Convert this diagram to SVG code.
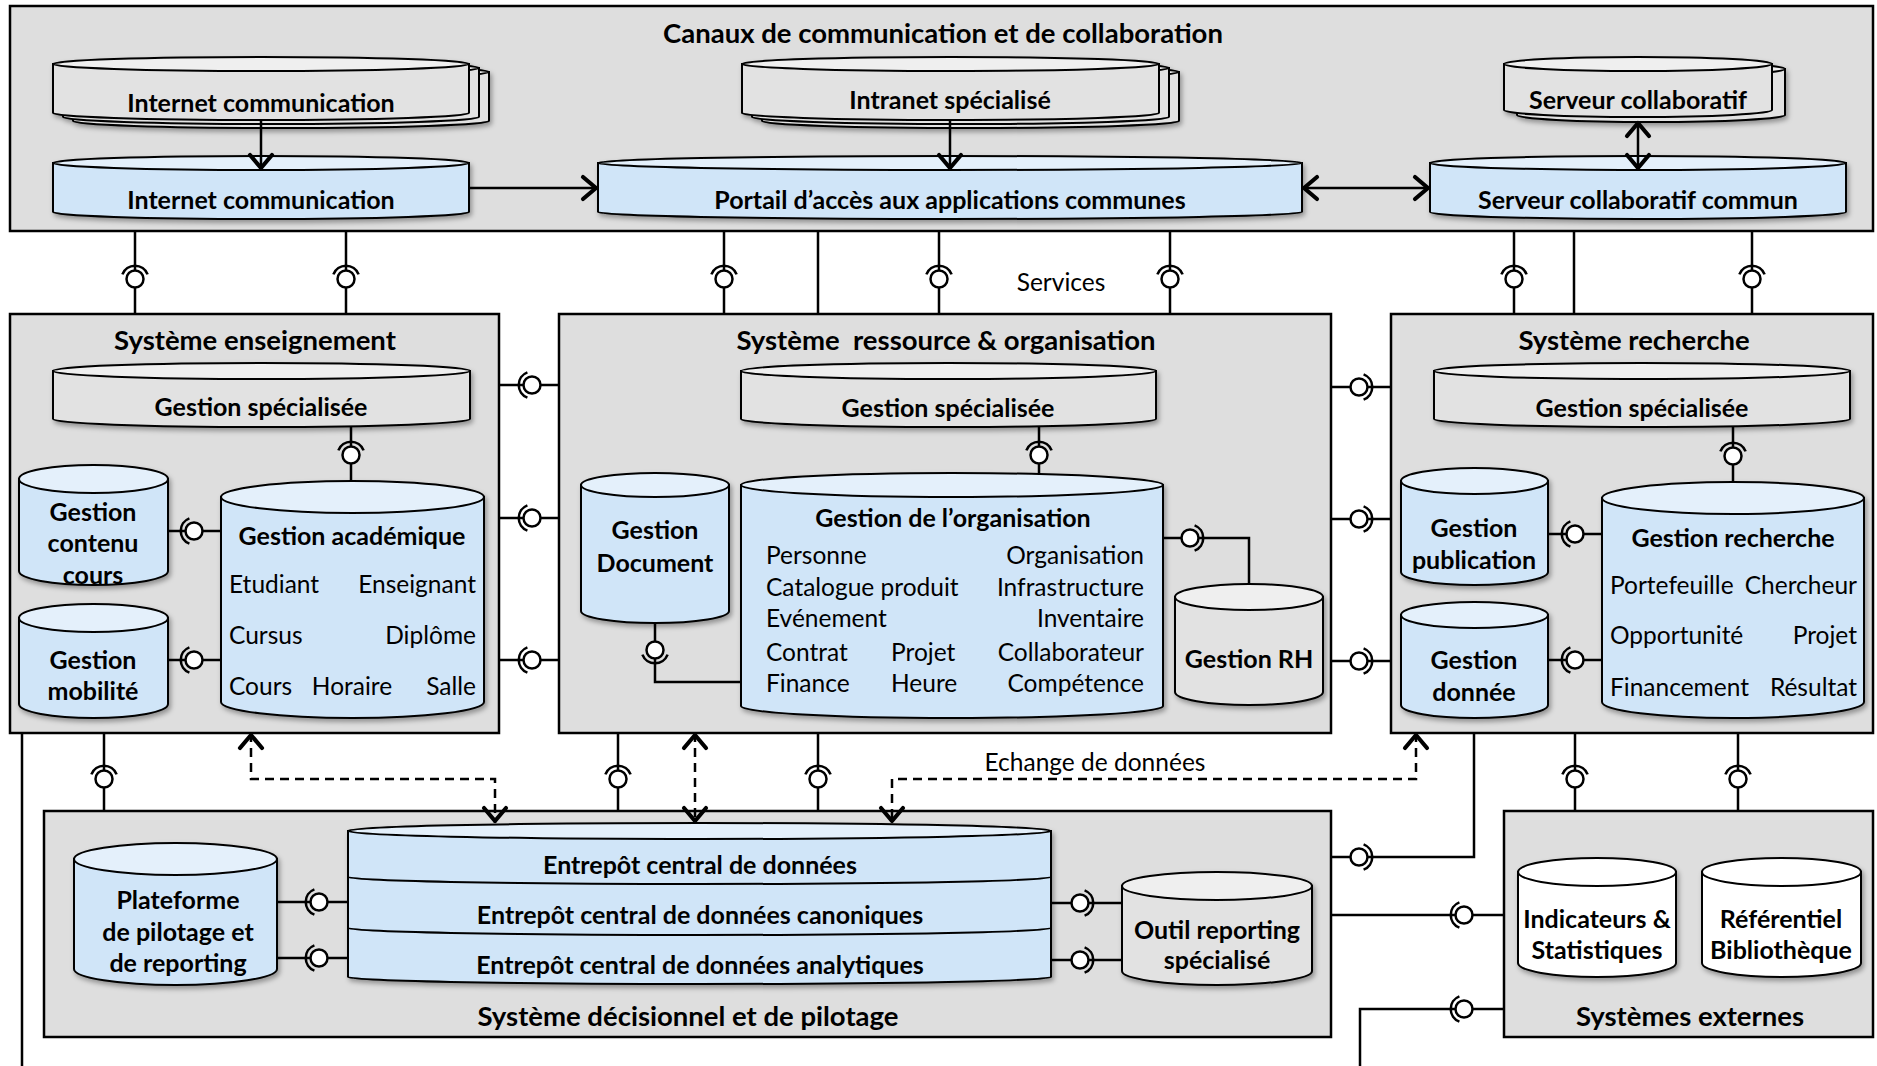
<svg xmlns="http://www.w3.org/2000/svg" xmlns:xlink="http://www.w3.org/1999/xlink" width="1877" height="1066" viewBox="0 0 1877 1066">
<style>
.box{fill:#dedede;stroke:#000;stroke-width:2.5}
.b,.t{stroke:#000;stroke-width:2}
.blue .b{fill:#d0e5f8}.blue .t{fill:#e4f0fb}
.gray .b{fill:#e2e2e2}.gray .t{fill:#efefef}
.white .b,.white .t{fill:#fff}
.ln{fill:none;stroke:#000;stroke-width:2.5}
.dash{fill:none;stroke:#000;stroke-width:2.5;stroke-dasharray:9 6}
.arr{fill:none;stroke:#000;stroke-width:2.5}
text{font-family:Lato,"Liberation Sans",sans-serif;fill:#000}
.hd{font-weight:700;font-size:27.5px;text-anchor:middle}
.lb{font-weight:700;font-size:25px;text-anchor:middle}
.it{font-size:24.5px}
.r{text-anchor:end}
.m{text-anchor:middle}
.nt{font-size:24.5px;text-anchor:middle}
</style>
<defs>
<filter id="sh" x="-10%" y="-10%" width="125%" height="135%"><feDropShadow dx="2" dy="3" stdDeviation="2.5" flood-color="#000" flood-opacity="0.35"/></filter>
<marker id="ah" viewBox="-20 -15 24 30" refX="0" refY="0" markerWidth="24" markerHeight="30" markerUnits="userSpaceOnUse" orient="auto-start-reverse"><path d="M-15,-11 L-2,0 L-15,11" fill="none" stroke="#000" stroke-width="4.2" stroke-linecap="round" stroke-linejoin="round"/></marker>
<g id="bs"><path d="M-12.6,-4.6 A13.5,13.5 0 0 1 12.6,-4.6" fill="none" stroke="#000" stroke-width="2.6"/><circle r="8.5" fill="#fff" stroke="#000" stroke-width="2.5"/></g>
</defs>

<!-- Containers -->
<g id="canaux">
<rect class="box" x="10" y="6" width="1863" height="225"/>
<text class="hd" x="943" y="43">Canaux de communication et de collaboration</text>
</g>
<g id="sys-enseignement">
<rect class="box" x="10" y="314" width="489" height="419"/>
<text class="hd" x="255" y="350">Système enseignement</text>
</g>
<g id="sys-ressource">
<rect class="box" x="559" y="314" width="772" height="419"/>
<text class="hd" x="946" y="350" style="white-space:pre">Système  ressource &amp; organisation</text>
</g>
<g id="sys-recherche">
<rect class="box" x="1391" y="314" width="482" height="419"/>
<text class="hd" x="1634" y="350">Système recherche</text>
</g>
<g id="sys-decisionnel">
<rect class="box" x="44" y="811" width="1287" height="226"/>
<text class="hd" x="688" y="1026">Système décisionnel et de pilotage</text>
</g>
<g id="sys-externes">
<rect class="box" x="1504" y="811" width="369" height="226"/>
<text class="hd" x="1690" y="1026">Systèmes externes</text>
</g>

<!-- Top channel nodes -->
<g id="internet-stack" class="gray">
<g filter="url(#sh)">
<path class="b" d="M73,72 V121 A208,7 0 0 0 489,121 V72 Z"/><ellipse class="t" cx="281" cy="72" rx="208" ry="7"/>
<path class="b" d="M63,68 V117 A208,7 0 0 0 479,117 V68 Z"/><ellipse class="t" cx="271" cy="68" rx="208" ry="7"/>
<path class="b" d="M53,64 V113 A208,7 0 0 0 469,113 V64 Z"/><ellipse class="t" cx="261" cy="64" rx="208" ry="7"/>
</g>
<text class="lb" x="261" y="112">Internet communication</text>
</g>
<g id="intranet-stack" class="gray">
<g filter="url(#sh)">
<path class="b" d="M762,72 V121 A208.5,7 0 0 0 1179,121 V72 Z"/><ellipse class="t" cx="970.5" cy="72" rx="208.5" ry="7"/>
<path class="b" d="M752,68 V117 A208.5,7 0 0 0 1169,117 V68 Z"/><ellipse class="t" cx="960.5" cy="68" rx="208.5" ry="7"/>
<path class="b" d="M742,64 V113 A208.5,7 0 0 0 1159,113 V64 Z"/><ellipse class="t" cx="950.5" cy="64" rx="208.5" ry="7"/>
</g>
<text class="lb" x="950" y="109">Intranet spécialisé</text>
</g>
<g id="serveur-stack" class="gray">
<g filter="url(#sh)">
<path class="b" d="M1517,69 V115 A134,7 0 0 0 1785,115 V69 Z"/><ellipse class="t" cx="1651" cy="69" rx="134" ry="7"/>
<path class="b" d="M1504,64 V110 A134,7 0 0 0 1772,110 V64 Z"/><ellipse class="t" cx="1638" cy="64" rx="134" ry="7"/>
</g>
<text class="lb" x="1638" y="109">Serveur collaboratif</text>
</g>
<g id="internet-com" class="blue">
<g filter="url(#sh)"><path class="b" d="M53,163 V212 A208,7 0 0 0 469,212 V163 Z"/><ellipse class="t" cx="261" cy="163" rx="208" ry="7"/></g>
<text class="lb" x="261" y="209">Internet communication</text>
</g>
<g id="portail" class="blue">
<g filter="url(#sh)"><path class="b" d="M598,163 V212 A352,7 0 0 0 1302,212 V163 Z"/><ellipse class="t" cx="950" cy="163" rx="352" ry="7"/></g>
<text class="lb" x="950" y="209">Portail d’accès aux applications communes</text>
</g>
<g id="serveur-commun" class="blue">
<g filter="url(#sh)"><path class="b" d="M1430,163 V212 A208,7 0 0 0 1846,212 V163 Z"/><ellipse class="t" cx="1638" cy="163" rx="208" ry="7"/></g>
<text class="lb" x="1638" y="209">Serveur collaboratif commun</text>
</g>

<!-- Enseignement nodes -->
<g id="ens-spec" class="gray">
<g filter="url(#sh)"><path class="b" d="M53,371 V419 A208.5,8 0 0 0 470,419 V371 Z"/><ellipse class="t" cx="261.5" cy="371" rx="208.5" ry="8"/></g>
<text class="lb" x="261" y="416">Gestion spécialisée</text>
</g>
<g id="ens-contenu" class="blue">
<g filter="url(#sh)"><path class="b" d="M19,479 V571 A74.5,14 0 0 0 168,571 V479 Z"/><ellipse class="t" cx="93.5" cy="479" rx="74.5" ry="14"/></g>
<text class="lb" x="93" y="521">Gestion</text><text class="lb" x="93" y="552">contenu</text><text class="lb" x="93" y="584">cours</text>
</g>
<g id="ens-mobilite" class="blue">
<g filter="url(#sh)"><path class="b" d="M19,618 V704 A74.5,14 0 0 0 168,704 V618 Z"/><ellipse class="t" cx="93.5" cy="618" rx="74.5" ry="14"/></g>
<text class="lb" x="93" y="669">Gestion</text><text class="lb" x="93" y="700">mobilité</text>
</g>
<g id="ens-academique" class="blue">
<g filter="url(#sh)"><path class="b" d="M221,497 V702 A131.5,16 0 0 0 484,702 V497 Z"/><ellipse class="t" cx="352.5" cy="497" rx="131.5" ry="16"/></g>
<text class="lb" x="352" y="545">Gestion académique</text>
<text class="it" x="229" y="593">Etudiant</text><text class="it r" x="476" y="593">Enseignant</text>
<text class="it" x="229" y="644">Cursus</text><text class="it r" x="476" y="644">Diplôme</text>
<text class="it" x="229" y="695">Cours</text><text class="it m" x="352" y="695">Horaire</text><text class="it r" x="476" y="695">Salle</text>
</g>

<!-- Ressource nodes -->
<g id="res-spec" class="gray">
<g filter="url(#sh)"><path class="b" d="M741,371 V419 A207.5,8 0 0 0 1156,419 V371 Z"/><ellipse class="t" cx="948.5" cy="371" rx="207.5" ry="8"/></g>
<text class="lb" x="948" y="417">Gestion spécialisée</text>
</g>
<g id="res-document" class="blue">
<g filter="url(#sh)"><path class="b" d="M581,485 V611 A74,12 0 0 0 729,611 V485 Z"/><ellipse class="t" cx="655" cy="485" rx="74" ry="12"/></g>
<text class="lb" x="655" y="539">Gestion</text><text class="lb" x="655" y="572">Document</text>
</g>
<g id="res-organisation" class="blue">
<g filter="url(#sh)"><path class="b" d="M741,485 V706 A211,12 0 0 0 1163,706 V485 Z"/><ellipse class="t" cx="952" cy="485" rx="211" ry="12"/></g>
<text class="lb" x="953" y="527">Gestion de l’organisation</text>
<text class="it" x="766" y="564">Personne</text><text class="it r" x="1144" y="564">Organisation</text>
<text class="it" x="766" y="596">Catalogue produit</text><text class="it r" x="1144" y="596">Infrastructure</text>
<text class="it" x="766" y="627">Evénement</text><text class="it r" x="1144" y="627">Inventaire</text>
<text class="it" x="766" y="661">Contrat</text><text class="it" x="891" y="661">Projet</text><text class="it r" x="1144" y="661">Collaborateur</text>
<text class="it" x="766" y="692">Finance</text><text class="it" x="891" y="692">Heure</text><text class="it r" x="1144" y="692">Compétence</text>
</g>
<g id="res-rh" class="gray">
<g filter="url(#sh)"><path class="b" d="M1175,597 V692 A74,13 0 0 0 1323,692 V597 Z"/><ellipse class="t" cx="1249" cy="597" rx="74" ry="13"/></g>
<text class="lb" x="1249" y="668">Gestion RH</text>
</g>

<!-- Recherche nodes -->
<g id="rech-spec" class="gray">
<g filter="url(#sh)"><path class="b" d="M1434,371 V419 A208,8 0 0 0 1850,419 V371 Z"/><ellipse class="t" cx="1642" cy="371" rx="208" ry="8"/></g>
<text class="lb" x="1642" y="417">Gestion spécialisée</text>
</g>
<g id="rech-publication" class="blue">
<g filter="url(#sh)"><path class="b" d="M1401,481 V572 A73.5,13 0 0 0 1548,572 V481 Z"/><ellipse class="t" cx="1474.5" cy="481" rx="73.5" ry="13"/></g>
<text class="lb" x="1474" y="537">Gestion</text><text class="lb" x="1474" y="569">publication</text>
</g>
<g id="rech-donnee" class="blue">
<g filter="url(#sh)"><path class="b" d="M1401,615 V705 A73.5,13 0 0 0 1548,705 V615 Z"/><ellipse class="t" cx="1474.5" cy="615" rx="73.5" ry="13"/></g>
<text class="lb" x="1474" y="669">Gestion</text><text class="lb" x="1474" y="701">donnée</text>
</g>
<g id="rech-recherche" class="blue">
<g filter="url(#sh)"><path class="b" d="M1602,498 V702 A131,16 0 0 0 1864,702 V498 Z"/><ellipse class="t" cx="1733" cy="498" rx="131" ry="16"/></g>
<text class="lb" x="1733" y="547">Gestion recherche</text>
<text class="it" x="1610" y="594">Portefeuille</text><text class="it r" x="1857" y="594">Chercheur</text>
<text class="it" x="1610" y="644">Opportunité</text><text class="it r" x="1857" y="644">Projet</text>
<text class="it" x="1610" y="696">Financement</text><text class="it r" x="1857" y="696">Résultat</text>
</g>

<!-- Décisionnel nodes -->
<g id="dec-plateforme" class="blue">
<g filter="url(#sh)"><path class="b" d="M74,859 V969 A101.5,16 0 0 0 277,969 V859 Z"/><ellipse class="t" cx="175.5" cy="859" rx="101.5" ry="16"/></g>
<text class="lb" x="178" y="909">Plateforme</text><text class="lb" x="178" y="941">de pilotage et</text><text class="lb" x="178" y="972">de reporting</text>
</g>
<g id="dec-entrepot" class="blue">
<g filter="url(#sh)">
<path class="b" d="M348,921 V977 A351.5,7 0 0 0 1051,977 V921 Z"/>
<path class="b" d="M348,870 V928 A351.5,7 0 0 0 1051,928 V870 Z"/>
<path class="b" d="M348,831 V877 A351.5,7 0 0 0 1051,877 V831 Z"/>
<ellipse class="t" cx="699.5" cy="831" rx="351.5" ry="8"/>
</g>
<text class="lb" x="700" y="874">Entrepôt central de données</text>
<text class="lb" x="700" y="924">Entrepôt central de données canoniques</text>
<text class="lb" x="700" y="974">Entrepôt central de données analytiques</text>
</g>
<g id="dec-outil" class="gray">
<g filter="url(#sh)"><path class="b" d="M1122,886 V971 A95,14 0 0 0 1312,971 V886 Z"/><ellipse class="t" cx="1217" cy="886" rx="95" ry="14"/></g>
<text class="lb" x="1217" y="939">Outil reporting</text><text class="lb" x="1217" y="969">spécialisé</text>
</g>

<!-- Externes nodes -->
<g id="ext-indicateurs" class="white">
<g filter="url(#sh)"><path class="b" d="M1518,872 V963 A79,14 0 0 0 1676,963 V872 Z"/><ellipse class="t" cx="1597" cy="872" rx="79" ry="14"/></g>
<text class="lb" x="1597" y="928">Indicateurs &amp;</text><text class="lb" x="1597" y="959">Statistiques</text>
</g>
<g id="ext-referentiel" class="white">
<g filter="url(#sh)"><path class="b" d="M1702,872 V963 A79.5,14 0 0 0 1861,963 V872 Z"/><ellipse class="t" cx="1781.5" cy="872" rx="79.5" ry="14"/></g>
<text class="lb" x="1781" y="928">Référentiel</text><text class="lb" x="1781" y="959">Bibliothèque</text>
</g>

<!-- Connectors -->
<g id="connectors">
<path class="arr" d="M261,121 V170" marker-end="url(#ah)"/>
<path class="arr" d="M950,121 V170" marker-end="url(#ah)"/>
<path class="arr" d="M469,188 H598" marker-end="url(#ah)"/>
<path class="arr" d="M1302,188 H1430" marker-start="url(#ah)" marker-end="url(#ah)"/>
<path class="arr" d="M1638,121 V170" marker-start="url(#ah)" marker-end="url(#ah)"/>

<path class="ln" d="M135,231 V314 M346,231 V314 M724,231 V314 M818,231 V314 M939,231 V314 M1170,231 V314 M1514,231 V314 M1574,231 V314 M1752,231 V314"/>
<use xlink:href="#bs" transform="translate(135,279)"/>
<use xlink:href="#bs" transform="translate(346,279)"/>
<use xlink:href="#bs" transform="translate(724,279)"/>
<use xlink:href="#bs" transform="translate(939,279)"/>
<use xlink:href="#bs" transform="translate(1170,279)"/>
<use xlink:href="#bs" transform="translate(1514,279)"/>
<use xlink:href="#bs" transform="translate(1752,279)"/>
<text class="nt" x="1061" y="291">Services</text>

<path class="ln" d="M351,427 V481 M1039,427 V473 M1733,427 V482"/>
<use xlink:href="#bs" transform="translate(351,455)"/>
<use xlink:href="#bs" transform="translate(1039,455)"/>
<use xlink:href="#bs" transform="translate(1733,456)"/>
<path class="ln" d="M168,531 H221 M168,660 H221"/>
<use xlink:href="#bs" transform="translate(194,531) rotate(-90)"/>
<use xlink:href="#bs" transform="translate(194,660) rotate(-90)"/>
<path class="ln" d="M1548,534 H1602 M1548,660 H1602"/>
<use xlink:href="#bs" transform="translate(1575,534) rotate(-90)"/>
<use xlink:href="#bs" transform="translate(1575,660) rotate(-90)"/>
<path class="ln" d="M655,623 V682 H741"/>
<use xlink:href="#bs" transform="translate(655,650) rotate(180)"/>
<path class="ln" d="M1163,538 H1249 V584"/>
<use xlink:href="#bs" transform="translate(1190,538) rotate(90)"/>

<path class="ln" d="M499,385 H559 M499,518 H559 M499,660 H559"/>
<use xlink:href="#bs" transform="translate(532,385) rotate(-90)"/>
<use xlink:href="#bs" transform="translate(532,518) rotate(-90)"/>
<use xlink:href="#bs" transform="translate(532,660) rotate(-90)"/>
<path class="ln" d="M1331,387 H1391 M1331,519 H1391 M1331,661 H1391"/>
<use xlink:href="#bs" transform="translate(1359,387) rotate(90)"/>
<use xlink:href="#bs" transform="translate(1359,519) rotate(90)"/>
<use xlink:href="#bs" transform="translate(1359,661) rotate(90)"/>

<path class="ln" d="M104,733 V811 M618,733 V811 M818,733 V811 M1575,733 V811 M1738,733 V811"/>
<use xlink:href="#bs" transform="translate(104,779)"/>
<use xlink:href="#bs" transform="translate(618,779)"/>
<use xlink:href="#bs" transform="translate(818,779)"/>
<use xlink:href="#bs" transform="translate(1575,779)"/>
<use xlink:href="#bs" transform="translate(1738,779)"/>
<path class="ln" d="M22,733 V1066"/>
<path class="ln" d="M1474,733 V857 H1331"/>
<use xlink:href="#bs" transform="translate(1359,857) rotate(90)"/>

<path class="dash" d="M251,733 V779 H495 V823" marker-start="url(#ah)" marker-end="url(#ah)"/>
<path class="dash" d="M695,733 V823" marker-start="url(#ah)" marker-end="url(#ah)"/>
<path class="dash" d="M1416,733 V779 H892 V823" marker-start="url(#ah)" marker-end="url(#ah)"/>
<text class="nt" x="1095" y="771">Echange de données</text>

<path class="ln" d="M277,902 H348 M277,958 H348"/>
<use xlink:href="#bs" transform="translate(319,902) rotate(-90)"/>
<use xlink:href="#bs" transform="translate(319,958) rotate(-90)"/>
<path class="ln" d="M1051,903 H1122 M1051,960 H1122"/>
<use xlink:href="#bs" transform="translate(1080,903) rotate(90)"/>
<use xlink:href="#bs" transform="translate(1080,960) rotate(90)"/>

<path class="ln" d="M1331,915 H1504"/>
<use xlink:href="#bs" transform="translate(1464,915) rotate(-90)"/>
<path class="ln" d="M1360,1066 V1009 H1504"/>
<use xlink:href="#bs" transform="translate(1464,1009) rotate(-90)"/>
</g>
</svg>
